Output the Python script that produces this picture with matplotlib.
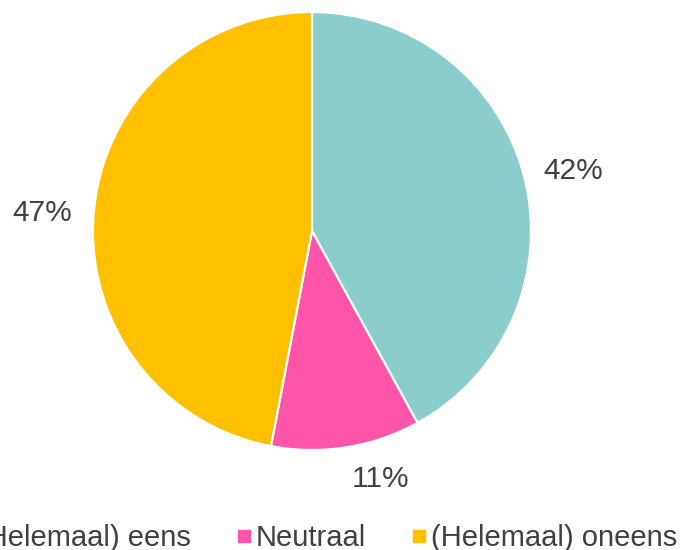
import matplotlib
matplotlib.use("Agg")
import matplotlib.pyplot as plt
from matplotlib.lines import Line2D
import numpy as np

categories = ["(Helemaal) eens", "Neutraal", "(Helemaal) oneens"]
values = [42, 11, 47]
colors = ["#8ACDCA", "#FF55A8", "#FFC000"]

plt.rcParams['font.family'] = ['Liberation Sans', 'DejaVu Sans']
text_color = "#404040"
fs = 21.5
legend_fs = 21

W, H = 685, 550
fig = plt.figure(figsize=(W / 100, H / 100), dpi=100)
cx, cy, r = 312, 231, 219
ax = fig.add_axes([(cx - r) / W, (H - cy - r) / H, 2 * r / W, 2 * r / H])

wedges, texts, autotexts = ax.pie(
    values, colors=colors, startangle=90, counterclock=False,
    autopct=lambda p: f"{p:.0f}%", pctdistance=1.225,
    wedgeprops=dict(edgecolor="white", linewidth=1.6),
    textprops=dict(color=text_color, fontsize=fs))
ax.set_xlim(-1, 1)
ax.set_ylim(-1, 1)
ax.set_aspect("auto")
ax.axis("off")

# label nudges (axes data units) to mimic the original placement
nudges = [(0.005, -0.032), (0.12, 0.076), (-0.014, -0.032)]
for t, (dx, dy) in zip(autotexts, nudges):
    x, y = t.get_position()
    t.set_position((x + dx, y + dy))

handles = [Line2D([], [], marker="s", linestyle="none", markersize=8,
                  markerfacecolor=c, markeredgecolor=c) for c in colors]
fig.legend(handles, categories, loc="center", bbox_to_anchor=(0.4635, 0.0218),
           ncol=3, frameon=False, fontsize=legend_fs, handlelength=0.5,
           handletextpad=0.18, columnspacing=1.54, borderpad=0, labelcolor=text_color)

fig.savefig("out.png", dpi=100)
